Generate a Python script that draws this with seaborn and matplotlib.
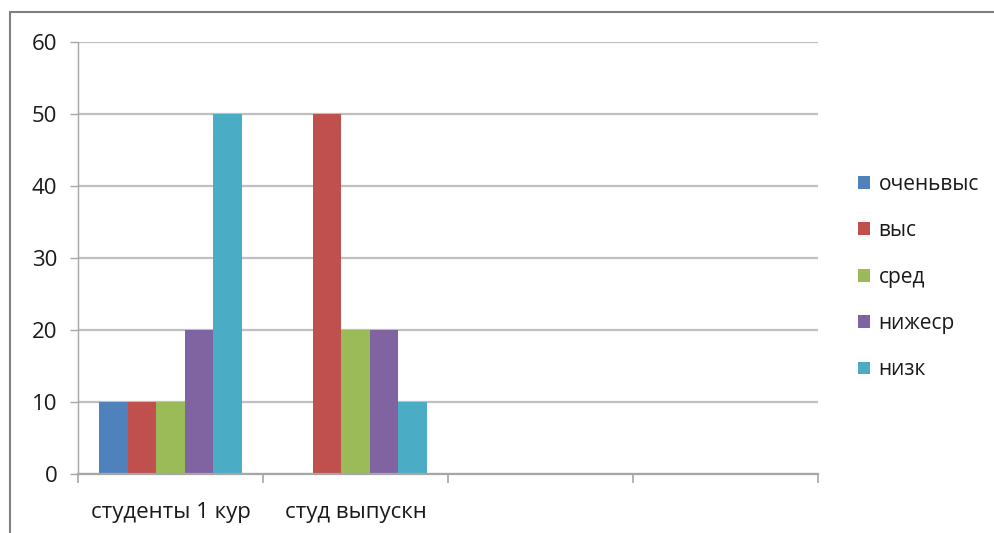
import matplotlib
matplotlib.use("Agg")
import matplotlib.pyplot as plt
from matplotlib.lines import Line2D
import seaborn as sns
import pandas as pd
import numpy as np

# Survey groups and achievement levels
groups = ["студенты 1 кур", "студ выпускн"]
blank_slots = ["", " "]
levels = ["оченьвыс", "выс", "сред", "нижеср", "низк"]
first_year = [10, 10, 10, 20, 50]
graduates = [0, 50, 20, 20, 10]
y_ticks = [0, 10, 20, 30, 40, 50, 60]

colors = ["#4F81BD", "#C0504D", "#9BBB59", "#8064A2", "#4BACC6"]

df = pd.DataFrame({
    "group": [groups[0]] * len(levels) + [groups[1]] * len(levels),
    "level": levels * 2,
    "value": first_year + graduates,
})

sns.set_theme(style="white")
plt.rcParams["font.family"] = ["Open Sans", "DejaVu Sans"]

fig = plt.figure(figsize=(9.94, 5.33), dpi=100)
ax = fig.add_axes([78 / 994, 1 - 474 / 533, 740 / 994, 432 / 533])

sns.barplot(data=df, x="group", y="value", hue="level", order=groups + blank_slots,
            hue_order=levels, palette=colors, width=0.77, gap=0, saturation=1,
            linewidth=0, ax=ax, legend=True, errorbar=None)

ax.set_ylim(y_ticks[0], y_ticks[-1])
ax.set_xlim(-0.5, len(groups) + len(blank_slots) - 0.5)
ax.set_yticks(y_ticks)
ax.set_xlabel("")
ax.set_ylabel("")
ax.set_axisbelow(True)
ax.yaxis.grid(True, color="#BFBFBF", linewidth=1.6)
ax.xaxis.grid(False)

for side in ["top", "right"]:
    ax.spines[side].set_visible(False)
ax.spines["left"].set_color("#A6A6A6")
ax.spines["left"].set_linewidth(1.0)
ax.spines["bottom"].set_color("#A6A6A6")
ax.spines["bottom"].set_linewidth(1.6)

ax.tick_params(axis="y", which="major", left=True, length=5.8, width=1, color="#A6A6A6",
               labelsize=16, labelcolor="#1a1a1a", pad=9)
ax.tick_params(axis="x", which="major", bottom=False, labelsize=16, labelcolor="#1a1a1a", pad=14)
ax.set_xticks(np.arange(-0.5, len(groups) + len(blank_slots)), minor=True)
ax.tick_params(axis="x", which="minor", bottom=True, length=6.5, width=1.2, color="#A6A6A6")

leg = ax.get_legend()
handles, labels = ax.get_legend_handles_labels()
leg.remove()
fig.legend(handles, labels, loc="center left", bbox_to_anchor=(839 / 994, 1 - 277 / 533),
           frameon=False, fontsize=15, handlelength=0.58, handleheight=0.58,
           handletextpad=0.42, labelspacing=1.22, labelcolor="#1a1a1a")

# Chart frame edges
fig.add_artist(Line2D([10 / 994, 1.0], [1 - 12 / 533, 1 - 12 / 533], transform=fig.transFigure,
                      color="#7F7F7F", linewidth=1.5))
fig.add_artist(Line2D([10 / 994, 10 / 994], [0, 1 - 12 / 533], transform=fig.transFigure,
                      color="#7F7F7F", linewidth=1.5))

fig.savefig("out.png", dpi=100, facecolor="white")
